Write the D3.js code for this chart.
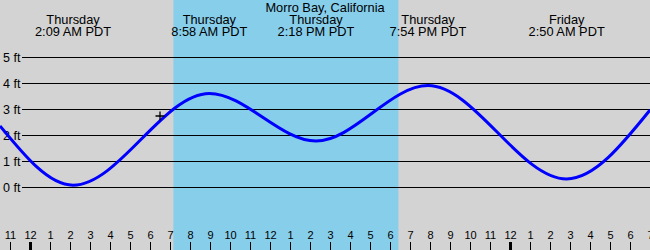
<!DOCTYPE html>
<html>
<head>
<meta charset="utf-8">
<script src="https://cdn.jsdelivr.net/npm/d3@7"></script>
<style>
  body { margin: 0; padding: 0; background: #fff; }
  svg { display: block; }
  text { font-family: "Liberation Sans", Arial, sans-serif; fill: #000; }
</style>
</head>
<body>
<div id="chart"></div>
<script>
// Morro Bay tide chart, hours counted from Thursday 00:00 PDT
var station = "Morro Bay, California";

// high / low tides (from the labels + curve)
var tideDays  = ["Thursday", "Thursday", "Thursday", "Thursday", "Friday"];
var tideTimes = ["2:09 AM PDT", "8:58 AM PDT", "2:18 PM PDT", "7:54 PM PDT", "2:50 AM PDT"];
var tideHours = [2.15, 8.967, 14.3, 19.9, 26.833];
var tideFeet  = [0.07, 3.6, 1.77, 3.9, 0.31];

// where the curve meets the left / right edge of the picture
var edgeHours = [-1.5, 31];
var edgeFeet  = [2.35, 2.96];

// daylight (sunrise / sunset) and current reading
var daylight = [7.17, 18.42];
var nowHour = 6.5, nowFeet = 2.73;

var feetTicks = [0, 1, 2, 3, 4, 5];
var hourTicks = d3.range(-1, 32);  // 11 PM Wed .. 7 AM Fri

var W = 650, H = 250;

var x = d3.scaleLinear().domain(edgeHours).range([0, W]);
var y = d3.scaleLinear().domain([0, 5]).range([187, 57]);

var svg = d3.select("#chart").append("svg")
  .attr("width", W)
  .attr("height", H);

// background + daylight band
svg.append("rect")
  .attr("width", W).attr("height", H)
  .attr("fill", "#d3d3d3");
svg.append("rect")
  .attr("x", x(daylight[0]))
  .attr("width", x(daylight[1]) - x(daylight[0]))
  .attr("height", H)
  .attr("fill", "#87ceeb");

// feet grid lines
var grid = svg.append("g");
grid.selectAll("line").data(feetTicks).enter().append("line")
  .attr("x1", 22).attr("x2", W)
  .attr("y1", function(d) { return Math.round(y(d)) + 0.5; })
  .attr("y2", function(d) { return Math.round(y(d)) + 0.5; })
  .attr("stroke", "#000").attr("stroke-width", 1);
grid.selectAll("text").data(feetTicks).enter().append("text")
  .attr("x", 3)
  .attr("y", function(d) { return y(d) + 4.5; })
  .style("font-size", "12.5px")
  .text(function(d) { return d + " ft"; });

// tide curve
var pts = [[edgeHours[0], edgeFeet[0]]];
tideHours.forEach(function(h, i) { pts.push([h, tideFeet[i]]); });
pts.push([edgeHours[1], edgeFeet[1]]);

var line = d3.line()
  .x(function(d) { return x(d[0]); })
  .y(function(d) { return y(d[1]); })
  .curve(d3.curveMonotoneX);

svg.append("path")
  .datum(pts)
  .attr("d", line)
  .attr("fill", "none")
  .attr("stroke", "#0000ff")
  .attr("stroke-width", 3);

// current level marker (+)
var cx = x(nowHour), cy = y(nowFeet);
svg.append("path")
  .attr("d", "M" + (cx - 4.5) + "," + cy + "H" + (cx + 4.5) + "M" + cx + "," + (cy - 4.5) + "V" + (cy + 4.5))
  .attr("stroke", "#000").attr("stroke-width", 1.3);

// title + tide labels
svg.append("text")
  .attr("x", W / 2).attr("y", 12)
  .attr("text-anchor", "middle")
  .style("font-size", "12.8px")
  .text(station);

var lab = svg.selectAll(".tlabel").data(tideHours).enter().append("g")
  .attr("class", "tlabel")
  .attr("transform", function(d) { return "translate(" + x(d) + ",0)"; });
lab.append("text")
  .attr("y", 24).attr("text-anchor", "middle")
  .style("font-size", "12.8px")
  .text(function(d, i) { return tideDays[i]; });
lab.append("text")
  .attr("y", 36).attr("text-anchor", "middle")
  .style("font-size", "12.8px")
  .text(function(d, i) { return tideTimes[i]; });

// hour ticks along the bottom
var ticks = svg.selectAll(".hour").data(hourTicks).enter().append("g")
  .attr("class", "hour")
  .attr("transform", function(d) { return "translate(" + (Math.round(x(d)) + 0.5) + ",0)"; });
ticks.append("line")
  .attr("y1", 242).attr("y2", H)
  .attr("stroke", "#000")
  .attr("stroke-width", function(d) { return ((d % 24) + 24) % 24 === 0 ? 3 : 1; });
ticks.append("text")
  .attr("y", 239).attr("text-anchor", "middle")
  .style("font-size", "11px")
  .text(function(d) {
    var h = ((d % 12) + 12) % 12;
    return h === 0 ? 12 : h;
  });
</script>
</body>
</html>
